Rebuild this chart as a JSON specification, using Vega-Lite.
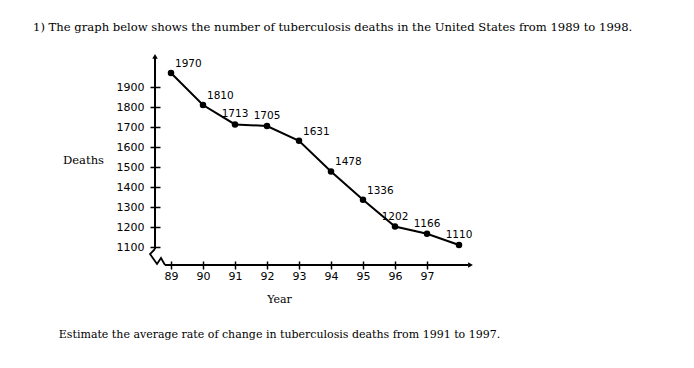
{
  "$schema": "https://vega.github.io/schema/vega-lite/v6.json",
  "width": 320,
  "height": 210,
  "autosize": "none",
  "padding": {"left": 155, "top": 55, "right": 219, "bottom": 103},
  "background": "white",
  "title": {
    "text": "1) The graph below shows the number of tuberculosis deaths in the United States from 1989 to 1998.",
    "anchor": "start",
    "frame": "group",
    "dx": -122,
    "dy": -10,
    "font": "DejaVu Serif",
    "fontSize": 11.6,
    "fontWeight": "normal",
    "color": "black",
    "offset": 10
  },
  "config": {"view": {"stroke": null}},
  "layer": [
    {
      "data": {"values": [
        {"year": 89, "deaths": 1970},
        {"year": 90, "deaths": 1810},
        {"year": 91, "deaths": 1713},
        {"year": 92, "deaths": 1705},
        {"year": 93, "deaths": 1631},
        {"year": 94, "deaths": 1478},
        {"year": 95, "deaths": 1336},
        {"year": 96, "deaths": 1202},
        {"year": 97, "deaths": 1166},
        {"year": 98, "deaths": 1110}
      ]},
      "layer": [
        {
          "mark": {"type": "line", "color": "black", "strokeWidth": 2},
          "encoding": {
            "x": {
              "field": "year", "type": "quantitative",
              "scale": {"domain": [88.5, 98.5], "nice": false, "zero": false},
              "axis": {
                "values": [89, 90, 91, 92, 93, 94, 95, 96, 97], "tickCount": 30,
                "format": "d", "labelOverlap": false, "labelFlush": false,
                "offset": -4, "tickSize": 8, "tickWidth": 1.5, "tickColor": "black",
                "domain": false, "grid": false,
                "labelFont": "DejaVu Sans", "labelFontSize": 11, "labelColor": "black", "labelPadding": 1,
                "title": ["Year", "Estimate the average rate of change in tuberculosis deaths from 1991 to 1997."],
                "titleFont": "DejaVu Serif", "titleFontSize": 11, "titleFontWeight": "normal", "titleColor": "black",
                "titleAlign": "center", "titleBaseline": "alphabetic", "titleX": 124, "titleY": 41, "titleLineHeight": 35
              }
            },
            "y": {
              "field": "deaths", "type": "quantitative",
              "scale": {"domain": [1010, 2060], "nice": false, "zero": false},
              "axis": {
                "values": [1100, 1200, 1300, 1400, 1500, 1600, 1700, 1800, 1900], "tickCount": 30,
                "format": "d", "labelOverlap": false, "labelFlush": false,
                "offset": -5, "tickSize": 10, "tickWidth": 1.5, "tickColor": "black",
                "domain": false, "grid": false,
                "labelFont": "DejaVu Sans", "labelFontSize": 11, "labelColor": "black", "labelPadding": 6,
                "title": "Deaths", "titleAngle": 0,
                "titleFont": "DejaVu Serif", "titleFontSize": 11.6, "titleFontWeight": "normal", "titleColor": "black",
                "titleAlign": "center", "titleBaseline": "alphabetic", "titleX": -77, "titleY": 108
              }
            }
          }
        },
        {
          "mark": {"type": "point", "filled": true, "color": "black", "size": 42, "opacity": 1},
          "encoding": {
            "x": {"field": "year", "type": "quantitative"},
            "y": {"field": "deaths", "type": "quantitative"}
          }
        },
        {
          "transform": [{"filter": {"field": "year", "oneOf": [89, 90, 93, 94, 95]}}],
          "mark": {"type": "text", "align": "left", "baseline": "middle", "dx": 4, "dy": -9, "font": "DejaVu Sans", "fontSize": 10.5, "color": "black"},
          "encoding": {
            "x": {"field": "year", "type": "quantitative"},
            "y": {"field": "deaths", "type": "quantitative"},
            "text": {"field": "deaths", "type": "quantitative", "format": "d"}
          }
        },
        {
          "transform": [{"filter": {"field": "year", "oneOf": [91, 92, 96, 97, 98]}}],
          "mark": {"type": "text", "align": "center", "baseline": "middle", "dx": 0, "dy": -10, "font": "DejaVu Sans", "fontSize": 10.5, "color": "black"},
          "encoding": {
            "x": {"field": "year", "type": "quantitative"},
            "y": {"field": "deaths", "type": "quantitative"},
            "text": {"field": "deaths", "type": "quantitative", "format": "d"}
          }
        }
      ]
    },
    {
      "data": {"values": [{"x": 88.5, "y": 1090, "y2": 2050}]},
      "mark": {"type": "rule", "color": "black", "strokeWidth": 2},
      "encoding": {
        "x": {"field": "x", "type": "quantitative"},
        "y": {"field": "y", "type": "quantitative"},
        "y2": {"field": "y2"}
      }
    },
    {
      "data": {"values": [{"x": 88.8125, "x2": 98.3, "y": 1010}]},
      "mark": {"type": "rule", "color": "black", "strokeWidth": 2},
      "encoding": {
        "x": {"field": "x", "type": "quantitative"},
        "x2": {"field": "x2"},
        "y": {"field": "y", "type": "quantitative"}
      }
    },
    {
      "data": {"values": [{"x": 88.5, "y": 2053}]},
      "mark": {"type": "point", "shape": "triangle-up", "filled": true, "color": "black", "size": 30, "opacity": 1},
      "encoding": {
        "x": {"field": "x", "type": "quantitative"},
        "y": {"field": "y", "type": "quantitative"}
      }
    },
    {
      "data": {"values": [{"x": 98.36, "y": 1010}]},
      "mark": {"type": "point", "shape": "triangle-right", "filled": true, "color": "black", "size": 30, "opacity": 1},
      "encoding": {
        "x": {"field": "x", "type": "quantitative"},
        "y": {"field": "y", "type": "quantitative"}
      }
    },
    {
      "data": {"values": [
        {"step": 1, "x": 88.5, "y": 1090},
        {"step": 2, "x": 88.344, "y": 1065},
        {"step": 3, "x": 88.5625, "y": 1015},
        {"step": 4, "x": 88.6875, "y": 1045},
        {"step": 5, "x": 88.8125, "y": 1010}
      ]},
      "mark": {"type": "line", "color": "black", "strokeWidth": 1.8},
      "encoding": {
        "x": {"field": "x", "type": "quantitative"},
        "y": {"field": "y", "type": "quantitative"},
        "order": {"field": "step", "type": "quantitative"}
      }
    }
  ]
}
